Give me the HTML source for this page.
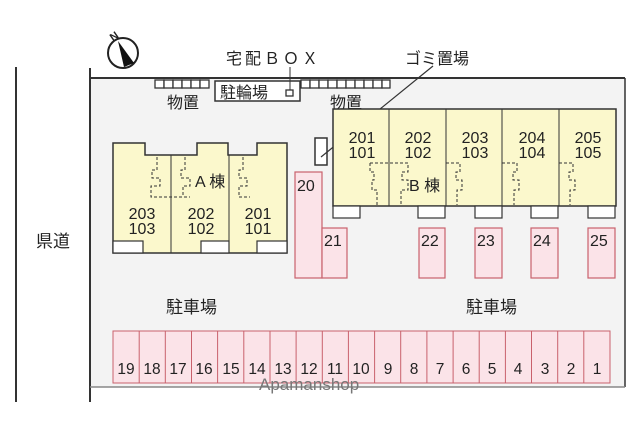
<!DOCTYPE html>
<html><head><meta charset="utf-8"><style>
html,body{margin:0;padding:0;background:#fff}
svg{display:block}
text{font-family:"Liberation Sans","Noto Sans CJK JP",sans-serif;fill:#222}
</style></head><body>
<svg width="640" height="434" viewBox="0 0 640 434" xmlns="http://www.w3.org/2000/svg">
<rect x="90" y="78" width="535" height="309" fill="#f3f3f3"/>
<line x1="90" y1="78" x2="625" y2="78" stroke="#333" stroke-width="2"/>
<line x1="625" y1="78" x2="625" y2="387" stroke="#333" stroke-width="1.5"/>
<line x1="90" y1="68" x2="90" y2="402" stroke="#333" stroke-width="2"/>
<line x1="16" y1="67" x2="16" y2="402" stroke="#333" stroke-width="2"/>
<line x1="90" y1="387" x2="625" y2="387" stroke="#888" stroke-width="1.5"/>
<!-- compass -->
<circle cx="123" cy="53" r="15" fill="#fff" stroke="#222" stroke-width="2"/>
<polygon points="118,41 124,67 134,63" fill="#111"/>
<text x="110" y="40" font-size="11" font-weight="bold" transform="rotate(-35 114 36)">N</text>
<!-- storage -->
<g fill="#fff" stroke="#333" stroke-width="1.3">
<rect x="155" y="80" width="9" height="8"/><rect x="164" y="80" width="9" height="8"/><rect x="173" y="80" width="9" height="8"/><rect x="182" y="80" width="9" height="8"/><rect x="191" y="80" width="9" height="8"/><rect x="200" y="80" width="9" height="8"/>
<rect x="301" y="80" width="9" height="8"/><rect x="310" y="80" width="9" height="8"/><rect x="319" y="80" width="9" height="8"/><rect x="328" y="80" width="9" height="8"/><rect x="337" y="80" width="9" height="8"/><rect x="346" y="80" width="9" height="8"/><rect x="355" y="80" width="9" height="8"/><rect x="364" y="80" width="9" height="8"/><rect x="373" y="80" width="9" height="8"/><rect x="382" y="80" width="8" height="8"/>
<rect x="215" y="81" width="85" height="20" stroke-width="1.5"/>
<rect x="286" y="90" width="7" height="6"/>
<rect x="315" y="138" width="12" height="27" stroke-width="1.5"/>
</g>
<line x1="290" y1="67" x2="290" y2="90" stroke="#333"/>
<line x1="321" y1="157" x2="433" y2="66" stroke="#333" stroke-width="1.2"/>
<text x="167" y="108" font-size="16">物置</text>
<text x="330" y="108" font-size="16">物置</text>
<text x="220" y="98" font-size="16">駐輪場</text>
<text x="226" y="64" font-size="16" letter-spacing="3">宅配ＢＯＸ</text>
<text x="405" y="64" font-size="16">ゴミ置場</text>
<text x="36" y="247" font-size="17">県道</text>
<text x="166" y="313" font-size="17">駐車場</text>
<text x="466" y="313" font-size="17">駐車場</text>
<!-- A building -->
<path d="M113,143 H145 V155 H197 V143 H228 V155 H257 V143 H287 V253 H113 Z" fill="#fbf8cc" stroke="#333" stroke-width="1.5"/>
<line x1="171" y1="155" x2="171" y2="253" stroke="#333"/>
<line x1="229" y1="155" x2="229" y2="253" stroke="#333"/>
<g fill="none" stroke="#333" stroke-dasharray="3,2">
<path d="M157,157 V170 H152 V178 H160 V186 H151 V197 H190"/>
<path d="M185,157 V170 H181 V178 H190 V186 H183 V197"/>
<path d="M243,157 V170 H239 V178 H247 V186 H239 V197 H250"/>
</g>
<g fill="#fff" stroke="#333" stroke-width="1.2">
<rect x="113" y="241" width="30" height="12"/><rect x="201" y="241" width="28" height="12"/><rect x="257" y="241" width="30" height="12"/>
</g>
<text x="195" y="187" font-size="16">A 棟</text>
<g font-size="16" text-anchor="middle">
<text x="142" y="219">203</text><text x="142" y="234">103</text>
<text x="201" y="219">202</text><text x="201" y="234">102</text>
<text x="258" y="219">201</text><text x="258" y="234">101</text>
</g>
<!-- B building -->
<rect x="333" y="109" width="283" height="97" fill="#fbf8cc" stroke="#333" stroke-width="1.5"/>
<g stroke="#333"><line x1="389" y1="109" x2="389" y2="206"/><line x1="446" y1="109" x2="446" y2="206"/><line x1="502" y1="109" x2="502" y2="206"/><line x1="559" y1="109" x2="559" y2="206"/></g>
<g fill="none" stroke="#333" stroke-dasharray="3,2">
<path d="M370,163 H408 V172 H402 V180 H408 V190 H401 V205"/>
<path d="M370,163 V172 H374 V180 H372 V190 H377 V205"/>
<path d="M446,163 H460 V172 H456 V180 H462 V190 H457 V205"/>
<path d="M502,163 H517 V172 H513 V180 H519 V190 H514 V205"/>
<path d="M559,163 H573 V172 H569 V180 H575 V190 H570 V205"/>
</g>
<text x="409" y="191" font-size="16">B 棟</text>
<g font-size="16" text-anchor="middle">
<text x="362" y="143">201</text><text x="362" y="158">101</text>
<text x="418" y="143">202</text><text x="418" y="158">102</text>
<text x="475" y="143">203</text><text x="475" y="158">103</text>
<text x="532" y="143">204</text><text x="532" y="158">104</text>
<text x="588" y="143">205</text><text x="588" y="158">105</text>
</g>
<g fill="#fff" stroke="#333" stroke-width="1.2">
<rect x="333" y="206" width="27" height="12"/><rect x="418" y="206" width="27" height="12"/><rect x="475" y="206" width="27" height="12"/><rect x="531" y="206" width="27" height="12"/><rect x="588" y="206" width="27" height="12"/>
</g>
<!-- parking -->
<g fill="#fbe3e8" stroke="#c9616c" stroke-width="1.2">
<rect x="295" y="172" width="27" height="106"/><rect x="322" y="228" width="25" height="50"/>
<rect x="419" y="228" width="26" height="50"/><rect x="475" y="228" width="27" height="50"/><rect x="531" y="228" width="27" height="50"/><rect x="588" y="228" width="27" height="50"/>
</g>
<g font-size="16">
<text x="297" y="191">20</text><text x="324" y="246">21</text><text x="421" y="246">22</text><text x="477" y="246">23</text><text x="533" y="246">24</text><text x="590" y="246">25</text>
</g>
<g fill="#fbe3e8" stroke="#c9616c" stroke-width="1">
<rect x="113" y="331" width="497" height="52"/>
</g>
<g stroke="#c9616c" stroke-width="1">
<line x1="139.2" y1="331" x2="139.2" y2="383"/><line x1="165.3" y1="331" x2="165.3" y2="383"/><line x1="191.5" y1="331" x2="191.5" y2="383"/><line x1="217.6" y1="331" x2="217.6" y2="383"/><line x1="243.8" y1="331" x2="243.8" y2="383"/><line x1="270" y1="331" x2="270" y2="383"/><line x1="296.1" y1="331" x2="296.1" y2="383"/><line x1="322.3" y1="331" x2="322.3" y2="383"/><line x1="348.4" y1="331" x2="348.4" y2="383"/><line x1="374.6" y1="331" x2="374.6" y2="383"/><line x1="400.7" y1="331" x2="400.7" y2="383"/><line x1="426.9" y1="331" x2="426.9" y2="383"/><line x1="453.1" y1="331" x2="453.1" y2="383"/><line x1="479.2" y1="331" x2="479.2" y2="383"/><line x1="505.4" y1="331" x2="505.4" y2="383"/><line x1="531.5" y1="331" x2="531.5" y2="383"/><line x1="557.7" y1="331" x2="557.7" y2="383"/><line x1="583.8" y1="331" x2="583.8" y2="383"/>
</g>
<g font-size="15.5" text-anchor="middle">
<text x="126" y="374">19</text><text x="152" y="374">18</text><text x="178" y="374">17</text><text x="204" y="374">16</text><text x="231" y="374">15</text><text x="257" y="374">14</text><text x="283" y="374">13</text><text x="309" y="374">12</text><text x="335" y="374">11</text><text x="361" y="374">10</text><text x="388" y="374">9</text><text x="414" y="374">8</text><text x="440" y="374">7</text><text x="466" y="374">6</text><text x="492" y="374">5</text><text x="518" y="374">4</text><text x="545" y="374">3</text><text x="571" y="374">2</text><text x="597" y="374">1</text>
</g>
<text x="259" y="390" font-size="17" style="fill:#777">Apamanshop</text>
</svg>
</body></html>
